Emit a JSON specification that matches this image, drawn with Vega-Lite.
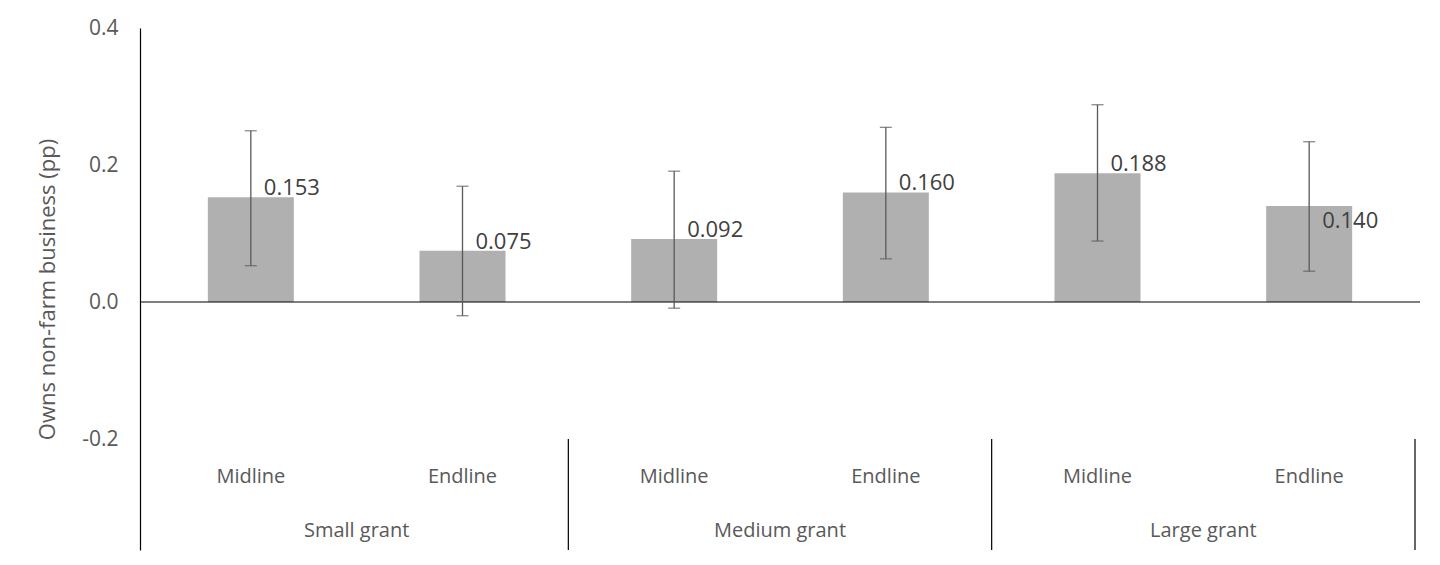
{
  "$schema": "https://vega.github.io/schema/vega-lite/v6.json",
  "autosize": "none",
  "width": 1280,
  "height": 522,
  "padding": {"left": 140, "top": 28, "right": 20, "bottom": 15},
  "background": "white",
  "config": {"view": {"stroke": null}, "font": "Open Sans"},
  "datasets": {
    "bars": [
      {"pos": 0.5, "period": "Midline", "grant": "Small grant", "v": 0.153, "lo": 0.053, "hi": 0.25},
      {"pos": 1.5, "period": "Endline", "grant": "Small grant", "v": 0.075, "lo": -0.02, "hi": 0.169},
      {"pos": 2.5, "period": "Midline", "grant": "Medium grant", "v": 0.092, "lo": -0.009, "hi": 0.191},
      {"pos": 3.5, "period": "Endline", "grant": "Medium grant", "v": 0.16, "lo": 0.063, "hi": 0.255},
      {"pos": 4.5, "period": "Midline", "grant": "Large grant", "v": 0.188, "lo": 0.089, "hi": 0.288},
      {"pos": 5.5, "period": "Endline", "grant": "Large grant", "v": 0.14, "lo": 0.045, "hi": 0.234}
    ],
    "groups": [
      {"pos": 1, "grant": "Small grant"},
      {"pos": 3, "grant": "Medium grant"},
      {"pos": 5, "grant": "Large grant"}
    ],
    "seps": [{"pos": 2}, {"pos": 4}, {"pos": 6}]
  },
  "layer": [
    {
      "data": {"name": "bars"},
      "mark": {"type": "bar", "color": "#b0b0b0", "size": 86},
      "encoding": {
        "x": {"field": "pos", "type": "quantitative", "scale": {"domain": [0, 6], "nice": false, "zero": false}, "axis": null},
        "y": {"field": "v", "type": "quantitative",
          "scale": {"domain": [-0.362, 0.4], "nice": false},
          "axis": {"values": [-0.2, 0, 0.2, 0.4], "labelExpr": "replace(format(datum.value, '.1f'), '−', '-')", "grid": false, "ticks": false,
            "domainColor": "black", "domainWidth": 1.2, "labelFontSize": 21, "labelColor": "#595959", "labelPadding": 22,
            "title": "Owns non-farm business (pp)", "titleFontSize": 22, "titleFontWeight": "normal",
            "titleColor": "#595959", "titlePadding": 22}}
      }
    },
    {
      "data": {"values": [{"z": 0}]},
      "mark": {"type": "rule", "color": "black", "strokeWidth": 1.2},
      "encoding": {"y": {"field": "z", "type": "quantitative"}}
    },
    {
      "data": {"name": "bars"},
      "mark": {"type": "rule", "color": "#595959", "strokeWidth": 1.3},
      "encoding": {
        "x": {"field": "pos", "type": "quantitative"},
        "y": {"field": "lo", "type": "quantitative"},
        "y2": {"field": "hi"}
      }
    },
    {
      "data": {"name": "bars"},
      "mark": {"type": "tick", "orient": "horizontal", "color": "#595959", "size": 12, "thickness": 1.3},
      "encoding": {"x": {"field": "pos", "type": "quantitative"}, "y": {"field": "lo", "type": "quantitative"}}
    },
    {
      "data": {"name": "bars"},
      "mark": {"type": "tick", "orient": "horizontal", "color": "#595959", "size": 12, "thickness": 1.3},
      "encoding": {"x": {"field": "pos", "type": "quantitative"}, "y": {"field": "hi", "type": "quantitative"}}
    },
    {
      "data": {"name": "bars"},
      "transform": [{"filter": "datum.v != 0.14"}],
      "mark": {"type": "text", "align": "left", "dx": 13, "dy": -9, "fontSize": 22, "color": "#404040"},
      "encoding": {"x": {"field": "pos", "type": "quantitative"}, "y": {"field": "v", "type": "quantitative"},
        "text": {"field": "v", "format": ".3f"}}
    },
    {
      "data": {"name": "bars"},
      "transform": [{"filter": "datum.v == 0.14"}],
      "mark": {"type": "text", "align": "left", "dx": 13, "dy": 15, "fontSize": 22, "color": "#404040"},
      "encoding": {"x": {"field": "pos", "type": "quantitative"}, "y": {"field": "v", "type": "quantitative"},
        "text": {"field": "v", "format": ".3f"}}
    },
    {
      "data": {"name": "bars"},
      "mark": {"type": "text", "fontSize": 20, "color": "#595959", "baseline": "middle"},
      "encoding": {"x": {"field": "pos", "type": "quantitative"}, "y": {"datum": -0.255, "type": "quantitative"},
        "text": {"field": "period"}}
    },
    {
      "data": {"name": "groups"},
      "mark": {"type": "text", "fontSize": 20, "color": "#595959", "baseline": "middle"},
      "encoding": {"x": {"field": "pos", "type": "quantitative"}, "y": {"datum": -0.334, "type": "quantitative"},
        "text": {"field": "grant"}}
    },
    {
      "data": {"name": "seps"},
      "mark": {"type": "rule", "color": "black", "strokeWidth": 1.2},
      "encoding": {"x": {"field": "pos", "type": "quantitative"},
        "y": {"datum": -0.2, "type": "quantitative"}, "y2": {"datum": -0.362}}
    }
  ]
}
